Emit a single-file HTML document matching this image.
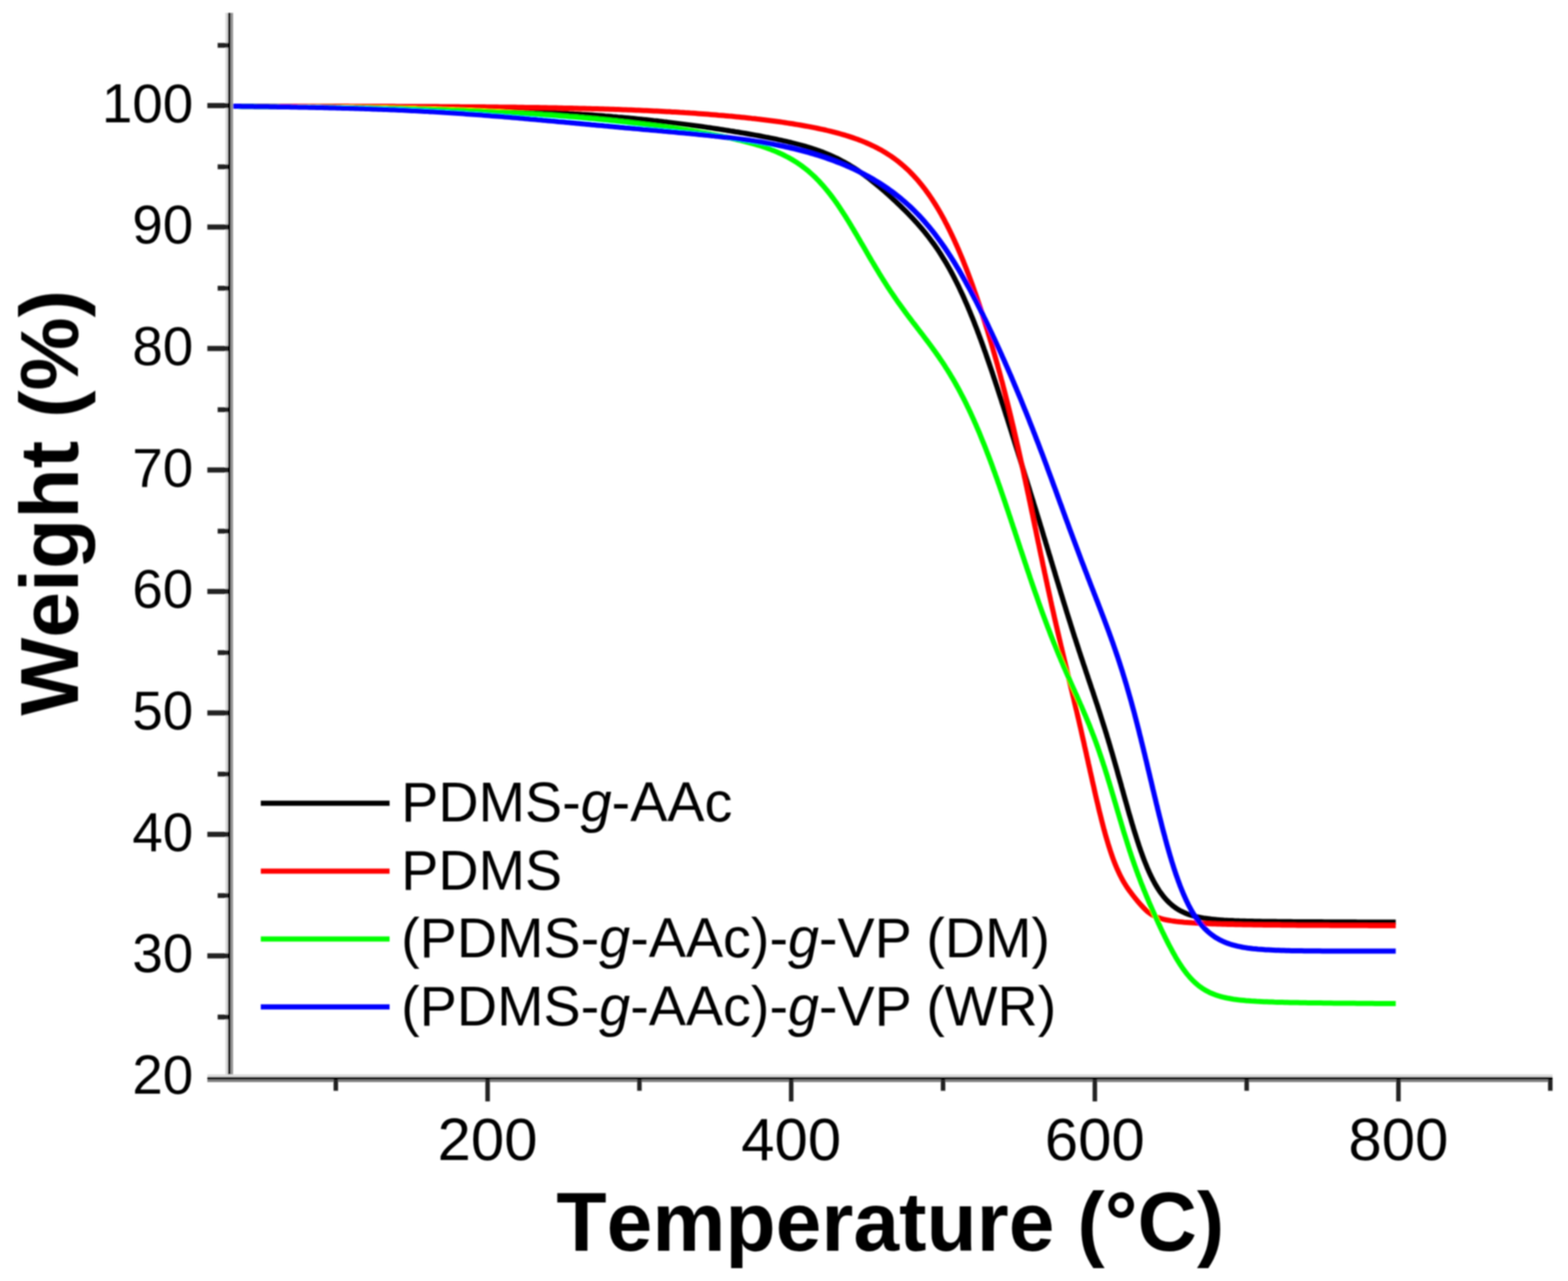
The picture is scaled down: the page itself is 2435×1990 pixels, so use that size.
<!DOCTYPE html>
<html><head><meta charset="utf-8"><title>TGA</title>
<style>html,body{margin:0;padding:0;background:#fff;overflow:hidden;} svg{display:block;}</style>
</head><body>
<svg width="2435" height="1990" viewBox="0 0 2435 1990" font-family='"Liberation Sans", Arial, sans-serif'>
<defs><filter id="soft" x="0" y="0" width="100%" height="100%" filterUnits="userSpaceOnUse"><feGaussianBlur stdDeviation="1.2"/></filter></defs>
<rect x="0" y="0" width="2435" height="1990" fill="#fff"/>
<g filter="url(#soft)">
<path d="M356.0,165.1L360.0,165.1L364.0,165.1L368.0,165.1L372.0,165.2L376.0,165.2L380.0,165.2L384.0,165.2L388.0,165.2L392.0,165.2L396.0,165.2L400.0,165.3L404.0,165.3L408.0,165.3L412.0,165.3L416.0,165.3L420.0,165.4L424.0,165.4L428.0,165.4L432.0,165.4L436.0,165.4L440.0,165.5L444.0,165.5L448.0,165.5L452.0,165.5L456.0,165.5L460.0,165.6L464.0,165.6L468.0,165.6L472.0,165.6L476.0,165.7L480.0,165.7L484.0,165.7L488.0,165.7L492.0,165.8L496.0,165.8L500.0,165.8L504.0,165.9L508.0,165.9L512.0,165.9L516.0,166.0L520.0,166.0L524.0,166.0L528.0,166.1L532.0,166.1L536.0,166.1L540.0,166.2L544.0,166.2L548.0,166.2L552.0,166.3L556.0,166.3L560.0,166.4L564.0,166.4L568.0,166.4L572.0,166.5L576.0,166.5L580.0,166.6L584.0,166.6L588.0,166.7L592.0,166.7L596.0,166.8L600.0,166.8L604.0,166.9L608.0,167.0L612.0,167.0L616.0,167.1L620.0,167.1L624.0,167.2L628.0,167.2L632.0,167.3L636.0,167.4L640.0,167.4L644.0,167.5L648.0,167.6L652.0,167.7L656.0,167.7L660.0,167.8L664.0,167.9L668.0,168.0L672.0,168.0L676.0,168.1L680.0,168.2L684.0,168.3L688.0,168.4L692.0,168.5L696.0,168.6L700.0,168.7L704.0,168.8L708.0,168.9L712.0,169.0L716.0,169.1L720.0,169.2L724.0,169.3L728.0,169.4L732.0,169.5L736.0,169.6L740.0,169.7L744.0,169.8L748.0,170.0L752.0,170.1L756.0,170.2L760.0,170.4L763.9,170.5L767.9,170.6L771.9,170.8L775.9,170.9L779.9,171.1L783.9,171.2L787.9,171.4L791.9,171.5L795.9,171.7L799.9,171.8L803.9,172.0L807.9,172.2L811.9,172.3L815.9,172.5L819.9,172.7L823.9,172.9L827.9,173.1L831.9,173.3L835.9,173.5L839.9,173.7L843.9,173.9L847.9,174.1L851.9,174.3L855.9,174.5L859.9,174.7L863.8,175.0L867.8,175.2L871.8,175.4L875.8,175.7L879.8,175.9L883.8,176.2L887.8,176.4L891.8,176.7L895.8,176.9L899.8,177.2L903.8,177.5L907.8,177.7L911.7,178.0L915.7,178.3L919.7,178.6L923.7,178.9L927.7,179.2L931.7,179.5L935.7,179.8L939.7,180.2L943.7,180.5L947.6,180.8L951.6,181.2L955.6,181.5L959.6,181.9L963.6,182.2L967.6,182.6L971.5,182.9L975.5,183.3L979.5,183.7L983.5,184.1L987.5,184.5L991.5,184.9L995.4,185.3L999.4,185.7L1003.4,186.1L1007.4,186.5L1011.3,186.9L1015.3,187.4L1019.3,187.8L1023.3,188.3L1027.2,188.7L1031.2,189.2L1035.2,189.6L1039.2,190.1L1043.1,190.6L1047.1,191.1L1051.1,191.6L1055.0,192.1L1059.0,192.6L1063.0,193.1L1066.9,193.6L1070.9,194.1L1074.9,194.7L1078.8,195.2L1082.8,195.7L1086.8,196.3L1090.7,196.8L1094.7,197.4L1098.6,198.0L1102.6,198.5L1106.6,199.1L1110.5,199.7L1114.5,200.3L1118.4,200.9L1122.4,201.5L1126.3,202.1L1130.3,202.7L1134.2,203.4L1138.2,204.0L1142.1,204.7L1146.1,205.3L1150.0,206.0L1154.0,206.6L1157.9,207.3L1161.9,208.0L1165.8,208.7L1169.7,209.4L1173.7,210.1L1177.6,210.8L1181.5,211.5L1185.5,212.3L1189.4,213.1L1193.3,213.8L1197.2,214.6L1201.2,215.4L1205.1,216.2L1209.0,217.1L1212.9,217.9L1216.8,218.8L1220.7,219.7L1224.6,220.6L1228.5,221.5L1232.4,222.5L1236.2,223.5L1240.1,224.5L1244.0,225.5L1247.8,226.6L1251.7,227.7L1255.5,228.9L1259.3,230.0L1263.1,231.3L1266.9,232.5L1270.7,233.9L1274.5,235.2L1278.2,236.6L1281.9,238.1L1285.6,239.6L1289.3,241.2L1293.0,242.8L1296.6,244.5L1300.2,246.2L1303.8,248.0L1307.3,249.9L1310.8,251.8L1314.3,253.7L1317.8,255.7L1321.2,257.8L1324.6,259.9L1328.0,262.0L1331.3,264.2L1334.6,266.5L1337.9,268.8L1341.2,271.1L1344.4,273.5L1347.6,275.9L1350.8,278.3L1353.9,280.8L1357.0,283.3L1360.1,285.8L1363.2,288.4L1366.3,290.9L1369.3,293.5L1372.4,296.1L1375.4,298.8L1378.4,301.4L1381.3,304.1L1384.3,306.8L1387.2,309.5L1390.2,312.2L1393.1,315.0L1396.0,317.7L1398.9,320.5L1401.7,323.3L1404.6,326.1L1407.4,328.9L1410.2,331.8L1413.0,334.7L1415.7,337.6L1418.5,340.5L1421.2,343.4L1423.9,346.4L1426.5,349.4L1429.1,352.4L1431.7,355.4L1434.3,358.5L1436.8,361.6L1439.3,364.7L1441.8,367.9L1444.2,371.1L1446.6,374.3L1449.0,377.5L1451.3,380.7L1453.6,384.0L1455.9,387.3L1458.1,390.6L1460.3,394.0L1462.4,397.4L1464.5,400.8L1466.6,404.2L1468.7,407.6L1470.7,411.1L1472.7,414.5L1474.7,418.0L1476.6,421.5L1478.5,425.0L1480.4,428.6L1482.2,432.1L1484.0,435.7L1485.8,439.3L1487.6,442.8L1489.3,446.4L1491.0,450.1L1492.7,453.7L1494.4,457.3L1496.1,461.0L1497.7,464.6L1499.3,468.3L1500.9,471.9L1502.5,475.6L1504.0,479.3L1505.6,483.0L1507.1,486.7L1508.6,490.4L1510.1,494.1L1511.6,497.8L1513.1,501.5L1514.5,505.3L1516.0,509.0L1517.4,512.7L1518.8,516.5L1520.2,520.2L1521.6,524.0L1523.0,527.7L1524.4,531.5L1525.7,535.2L1527.1,539.0L1528.4,542.8L1529.8,546.5L1531.1,550.3L1532.4,554.1L1533.7,557.9L1535.0,561.6L1536.3,565.4L1537.6,569.2L1538.9,573.0L1540.2,576.8L1541.5,580.6L1542.7,584.4L1544.0,588.2L1545.3,592.0L1546.5,595.8L1547.8,599.6L1549.0,603.4L1550.3,607.2L1551.5,611.0L1552.7,614.8L1554.0,618.6L1555.2,622.4L1556.4,626.2L1557.7,630.0L1558.9,633.8L1560.1,637.6L1561.3,641.4L1562.5,645.2L1563.8,649.0L1565.0,652.9L1566.2,656.7L1567.4,660.5L1568.6,664.3L1569.8,668.1L1571.0,671.9L1572.2,675.7L1573.4,679.5L1574.6,683.4L1575.8,687.2L1577.0,691.0L1578.2,694.8L1579.4,698.6L1580.6,702.4L1581.8,706.3L1583.0,710.1L1584.2,713.9L1585.4,717.7L1586.6,721.5L1587.8,725.3L1589.0,729.2L1590.2,733.0L1591.3,736.8L1592.5,740.6L1593.7,744.4L1594.9,748.3L1596.1,752.1L1597.3,755.9L1598.5,759.7L1599.6,763.5L1600.8,767.4L1602.0,771.2L1603.2,775.0L1604.4,778.8L1605.5,782.7L1606.7,786.5L1607.9,790.3L1609.1,794.1L1610.2,798.0L1611.4,801.8L1612.6,805.6L1613.8,809.4L1614.9,813.3L1616.1,817.1L1617.3,820.9L1618.4,824.7L1619.6,828.6L1620.7,832.4L1621.9,836.2L1623.1,840.0L1624.2,843.9L1625.4,847.7L1626.5,851.5L1627.7,855.4L1628.8,859.2L1630.0,863.0L1631.2,866.8L1632.3,870.7L1633.5,874.5L1634.6,878.3L1635.8,882.2L1636.9,886.0L1638.1,889.8L1639.2,893.7L1640.4,897.5L1641.5,901.3L1642.7,905.1L1643.9,909.0L1645.0,912.8L1646.2,916.6L1647.3,920.5L1648.5,924.3L1649.7,928.1L1650.8,931.9L1652.0,935.8L1653.2,939.6L1654.4,943.4L1655.5,947.2L1656.7,951.1L1657.9,954.9L1659.1,958.7L1660.3,962.5L1661.5,966.3L1662.7,970.1L1663.9,974.0L1665.1,977.8L1666.3,981.6L1667.5,985.4L1668.7,989.2L1670.0,993.0L1671.2,996.8L1672.4,1000.6L1673.7,1004.4L1674.9,1008.2L1676.1,1012.0L1677.4,1015.8L1678.6,1019.6L1679.9,1023.4L1681.2,1027.2L1682.4,1031.0L1683.7,1034.8L1685.0,1038.6L1686.2,1042.4L1687.5,1046.2L1688.8,1050.0L1690.0,1053.8L1691.3,1057.6L1692.6,1061.4L1693.9,1065.2L1695.1,1069.0L1696.4,1072.7L1697.7,1076.5L1698.9,1080.3L1700.2,1084.1L1701.4,1087.9L1702.7,1091.7L1704.0,1095.5L1705.2,1099.3L1706.4,1103.1L1707.7,1106.9L1708.9,1110.7L1710.1,1114.6L1711.3,1118.4L1712.5,1122.2L1713.7,1126.0L1714.9,1129.8L1716.1,1133.6L1717.3,1137.5L1718.5,1141.3L1719.6,1145.1L1720.8,1148.9L1721.9,1152.8L1723.1,1156.6L1724.2,1160.4L1725.3,1164.3L1726.5,1168.1L1727.6,1171.9L1728.7,1175.8L1729.8,1179.6L1730.9,1183.5L1732.0,1187.3L1733.1,1191.2L1734.2,1195.0L1735.3,1198.9L1736.3,1202.7L1737.4,1206.6L1738.5,1210.4L1739.6,1214.3L1740.7,1218.1L1741.7,1222.0L1742.8,1225.8L1743.9,1229.7L1744.9,1233.5L1746.0,1237.4L1747.1,1241.3L1748.2,1245.1L1749.3,1249.0L1750.4,1252.8L1751.4,1256.7L1752.5,1260.5L1753.6,1264.3L1754.8,1268.2L1755.9,1272.0L1757.0,1275.9L1758.1,1279.7L1759.3,1283.5L1760.4,1287.4L1761.6,1291.2L1762.8,1295.0L1764.0,1298.8L1765.2,1302.6L1766.4,1306.4L1767.7,1310.2L1768.9,1314.0L1770.2,1317.8L1771.5,1321.6L1772.9,1325.4L1774.2,1329.1L1775.6,1332.9L1777.0,1336.6L1778.5,1340.4L1780.0,1344.1L1781.5,1347.8L1783.1,1351.4L1784.7,1355.1L1786.4,1358.7L1788.1,1362.3L1789.9,1365.9L1791.8,1369.5L1793.7,1373.0L1795.7,1376.4L1797.8,1379.8L1799.9,1383.2L1802.2,1386.5L1804.6,1389.7L1807.0,1392.9L1809.6,1395.9L1812.3,1398.9L1815.1,1401.7L1818.1,1404.4L1821.1,1407.0L1824.3,1409.4L1827.6,1411.7L1831.0,1413.8L1834.6,1415.7L1838.2,1417.4L1841.8,1419.0L1845.6,1420.4L1849.4,1421.7L1853.2,1422.8L1857.1,1423.8L1861.0,1424.7L1864.9,1425.5L1868.8,1426.2L1872.8,1426.8L1876.7,1427.3L1880.7,1427.8L1884.7,1428.2L1888.7,1428.6L1892.7,1428.9L1896.6,1429.2L1900.6,1429.5L1904.6,1429.7L1908.6,1429.9L1912.6,1430.1L1916.6,1430.3L1920.6,1430.4L1924.6,1430.6L1928.6,1430.7L1932.6,1430.8L1936.6,1430.9L1940.6,1431.0L1944.6,1431.1L1948.6,1431.2L1952.6,1431.2L1956.6,1431.3L1960.6,1431.4L1964.6,1431.4L1968.6,1431.5L1972.6,1431.5L1976.6,1431.6L1980.6,1431.6L1984.6,1431.7L1988.6,1431.7L1992.6,1431.7L1996.6,1431.8L2000.6,1431.8L2004.6,1431.8L2008.6,1431.9L2012.6,1431.9L2016.6,1431.9L2020.6,1431.9L2024.6,1432.0L2028.6,1432.0L2032.6,1432.0L2036.6,1432.0L2040.6,1432.1L2044.6,1432.1L2048.6,1432.1L2052.6,1432.1L2056.6,1432.2L2060.6,1432.2L2064.6,1432.2L2068.6,1432.2L2072.6,1432.2L2076.6,1432.2L2080.6,1432.3L2084.6,1432.3L2088.6,1432.3L2092.6,1432.3L2096.6,1432.3L2100.6,1432.3L2104.6,1432.3L2108.6,1432.4L2112.6,1432.4L2116.6,1432.4L2120.6,1432.4L2124.6,1432.4L2128.6,1432.4L2132.6,1432.4L2136.6,1432.4L2140.6,1432.5L2144.6,1432.5L2148.6,1432.5L2152.6,1432.5L2156.6,1432.5L2160.6,1432.5L2164.6,1432.5L2167.5,1432.5" fill="none" stroke="#000" stroke-width="8" stroke-linejoin="round"/>
<path d="M356.0,164.9L360.0,164.9L364.0,164.9L368.0,164.9L372.0,164.9L376.0,164.9L380.0,164.9L384.0,164.9L388.0,164.9L392.0,165.0L396.0,165.0L400.0,165.0L404.0,165.0L408.0,165.0L412.0,165.0L416.0,165.0L420.0,165.0L424.0,165.0L428.0,165.0L432.0,165.0L436.0,165.0L440.0,165.0L444.0,165.0L448.0,165.0L452.0,165.0L456.0,165.0L460.0,165.0L464.0,165.0L468.0,165.0L472.0,165.0L476.0,165.0L480.0,165.0L484.0,165.0L488.0,165.1L492.0,165.1L496.0,165.1L500.0,165.1L504.0,165.1L508.0,165.1L512.0,165.1L516.0,165.1L520.0,165.1L524.0,165.1L528.0,165.1L532.0,165.1L536.0,165.1L540.0,165.1L544.0,165.2L548.0,165.2L552.0,165.2L556.0,165.2L560.0,165.2L564.0,165.2L568.0,165.2L572.0,165.2L576.0,165.2L580.0,165.2L584.0,165.3L588.0,165.3L592.0,165.3L596.0,165.3L600.0,165.3L604.0,165.3L608.0,165.3L612.0,165.3L616.0,165.4L620.0,165.4L624.0,165.4L628.0,165.4L632.0,165.4L636.0,165.4L640.0,165.4L644.0,165.5L648.0,165.5L652.0,165.5L656.0,165.5L660.0,165.5L664.0,165.6L668.0,165.6L672.0,165.6L676.0,165.6L680.0,165.6L684.0,165.7L688.0,165.7L692.0,165.7L696.0,165.7L700.0,165.8L704.0,165.8L708.0,165.8L712.0,165.8L716.0,165.9L720.0,165.9L724.0,165.9L728.0,165.9L732.0,166.0L736.0,166.0L740.0,166.0L744.0,166.1L748.0,166.1L752.0,166.1L756.0,166.2L760.0,166.2L764.0,166.3L768.0,166.3L772.0,166.3L776.0,166.4L780.0,166.4L784.0,166.5L788.0,166.5L792.0,166.6L796.0,166.6L800.0,166.6L804.0,166.7L808.0,166.8L812.0,166.8L816.0,166.9L820.0,166.9L824.0,167.0L828.0,167.0L832.0,167.1L836.0,167.1L840.0,167.2L844.0,167.3L848.0,167.3L852.0,167.4L856.0,167.5L860.0,167.6L864.0,167.6L868.0,167.7L872.0,167.8L876.0,167.9L880.0,167.9L884.0,168.0L888.0,168.1L892.0,168.2L896.0,168.3L900.0,168.4L904.0,168.5L908.0,168.6L912.0,168.7L916.0,168.8L920.0,168.9L924.0,169.0L928.0,169.1L932.0,169.2L936.0,169.3L940.0,169.5L944.0,169.6L948.0,169.7L952.0,169.8L956.0,170.0L960.0,170.1L964.0,170.2L967.9,170.4L971.9,170.5L975.9,170.7L979.9,170.8L983.9,171.0L987.9,171.2L991.9,171.3L995.9,171.5L999.9,171.7L1003.9,171.8L1007.9,172.0L1011.9,172.2L1015.9,172.4L1019.9,172.6L1023.9,172.8L1027.9,173.0L1031.9,173.2L1035.9,173.4L1039.9,173.6L1043.9,173.9L1047.9,174.1L1051.9,174.3L1055.8,174.6L1059.8,174.8L1063.8,175.1L1067.8,175.3L1071.8,175.6L1075.8,175.8L1079.8,176.1L1083.8,176.4L1087.8,176.7L1091.8,177.0L1095.8,177.3L1099.7,177.6L1103.7,177.9L1107.7,178.2L1111.7,178.5L1115.7,178.9L1119.7,179.2L1123.7,179.5L1127.6,179.9L1131.6,180.3L1135.6,180.6L1139.6,181.0L1143.6,181.4L1147.6,181.8L1151.5,182.2L1155.5,182.6L1159.5,183.0L1163.5,183.4L1167.4,183.9L1171.4,184.3L1175.4,184.8L1179.4,185.2L1183.3,185.7L1187.3,186.2L1191.3,186.7L1195.2,187.2L1199.2,187.7L1203.2,188.3L1207.1,188.8L1211.1,189.3L1215.1,189.9L1219.0,190.5L1223.0,191.1L1226.9,191.7L1230.9,192.3L1234.8,193.0L1238.8,193.6L1242.7,194.3L1246.7,195.0L1250.6,195.7L1254.5,196.4L1258.5,197.1L1262.4,197.9L1266.3,198.7L1270.2,199.5L1274.1,200.3L1278.1,201.2L1282.0,202.0L1285.9,203.0L1289.7,203.9L1293.6,204.9L1297.5,205.9L1301.4,206.9L1305.2,208.0L1309.1,209.1L1312.9,210.2L1316.7,211.4L1320.5,212.6L1324.3,213.9L1328.1,215.2L1331.9,216.5L1335.6,217.9L1339.3,219.4L1343.0,220.9L1346.7,222.5L1350.4,224.1L1354.0,225.8L1357.6,227.5L1361.2,229.3L1364.7,231.2L1368.2,233.1L1371.7,235.1L1375.1,237.2L1378.5,239.3L1381.9,241.5L1385.2,243.7L1388.4,246.0L1391.6,248.4L1394.8,250.8L1397.9,253.4L1401.0,255.9L1404.0,258.5L1407.0,261.2L1409.9,263.9L1412.8,266.7L1415.6,269.6L1418.4,272.5L1421.1,275.4L1423.8,278.4L1426.4,281.4L1428.9,284.5L1431.5,287.6L1433.9,290.7L1436.4,293.9L1438.7,297.1L1441.1,300.4L1443.4,303.6L1445.6,306.9L1447.9,310.3L1450.0,313.6L1452.2,317.0L1454.3,320.4L1456.3,323.8L1458.4,327.3L1460.4,330.7L1462.3,334.2L1464.3,337.7L1466.2,341.2L1468.0,344.8L1469.9,348.3L1471.7,351.9L1473.5,355.5L1475.3,359.1L1477.0,362.7L1478.7,366.3L1480.4,369.9L1482.1,373.5L1483.7,377.2L1485.4,380.8L1487.0,384.5L1488.6,388.2L1490.1,391.8L1491.7,395.5L1493.2,399.2L1494.8,402.9L1496.3,406.6L1497.7,410.3L1499.2,414.0L1500.7,417.8L1502.1,421.5L1503.5,425.2L1504.9,429.0L1506.3,432.7L1507.7,436.5L1509.1,440.2L1510.5,444.0L1511.8,447.8L1513.1,451.5L1514.5,455.3L1515.8,459.1L1517.1,462.9L1518.4,466.7L1519.7,470.5L1520.9,474.2L1522.2,478.0L1523.4,481.8L1524.7,485.6L1525.9,489.5L1527.1,493.3L1528.3,497.1L1529.5,500.9L1530.7,504.7L1531.9,508.5L1533.1,512.3L1534.3,516.2L1535.4,520.0L1536.6,523.8L1537.7,527.7L1538.9,531.5L1540.0,535.3L1541.1,539.2L1542.2,543.0L1543.3,546.9L1544.4,550.7L1545.5,554.6L1546.6,558.4L1547.7,562.3L1548.8,566.1L1549.8,570.0L1550.9,573.8L1551.9,577.7L1553.0,581.5L1554.0,585.4L1555.0,589.3L1556.1,593.1L1557.1,597.0L1558.1,600.9L1559.1,604.8L1560.1,608.6L1561.1,612.5L1562.1,616.4L1563.0,620.3L1564.0,624.1L1565.0,628.0L1566.0,631.9L1566.9,635.8L1567.9,639.7L1568.8,643.6L1569.8,647.4L1570.7,651.3L1571.6,655.2L1572.5,659.1L1573.5,663.0L1574.4,666.9L1575.3,670.8L1576.2,674.7L1577.1,678.6L1578.0,682.5L1578.9,686.4L1579.8,690.3L1580.7,694.2L1581.6,698.1L1582.4,702.0L1583.3,705.9L1584.2,709.8L1585.0,713.7L1585.9,717.6L1586.8,721.5L1587.6,725.4L1588.5,729.3L1589.3,733.2L1590.2,737.1L1591.0,741.1L1591.9,745.0L1592.7,748.9L1593.5,752.8L1594.4,756.7L1595.2,760.6L1596.0,764.5L1596.9,768.4L1597.7,772.3L1598.5,776.3L1599.4,780.2L1600.2,784.1L1601.0,788.0L1601.8,791.9L1602.6,795.8L1603.5,799.7L1604.3,803.7L1605.1,807.6L1605.9,811.5L1606.7,815.4L1607.5,819.3L1608.4,823.2L1609.2,827.2L1610.0,831.1L1610.8,835.0L1611.6,838.9L1612.4,842.8L1613.3,846.7L1614.1,850.7L1614.9,854.6L1615.7,858.5L1616.5,862.4L1617.4,866.3L1618.2,870.2L1619.0,874.1L1619.8,878.1L1620.7,882.0L1621.5,885.9L1622.3,889.8L1623.2,893.7L1624.0,897.6L1624.8,901.5L1625.7,905.4L1626.5,909.4L1627.4,913.3L1628.2,917.2L1629.1,921.1L1629.9,925.0L1630.8,928.9L1631.6,932.8L1632.5,936.7L1633.3,940.6L1634.2,944.5L1635.1,948.4L1636.0,952.3L1636.8,956.2L1637.7,960.1L1638.6,964.0L1639.5,967.9L1640.4,971.8L1641.3,975.7L1642.2,979.6L1643.1,983.5L1644.0,987.4L1644.9,991.3L1645.8,995.2L1646.7,999.1L1647.6,1003.0L1648.6,1006.9L1649.5,1010.8L1650.4,1014.7L1651.3,1018.6L1652.3,1022.5L1653.2,1026.3L1654.1,1030.2L1655.0,1034.1L1656.0,1038.0L1656.9,1041.9L1657.8,1045.8L1658.8,1049.7L1659.7,1053.6L1660.6,1057.5L1661.6,1061.4L1662.5,1065.2L1663.4,1069.1L1664.4,1073.0L1665.3,1076.9L1666.2,1080.8L1667.2,1084.7L1668.1,1088.6L1669.0,1092.5L1669.9,1096.4L1670.8,1100.3L1671.8,1104.2L1672.7,1108.1L1673.6,1112.0L1674.5,1115.8L1675.4,1119.7L1676.3,1123.6L1677.2,1127.5L1678.1,1131.4L1679.0,1135.3L1679.8,1139.2L1680.7,1143.1L1681.6,1147.0L1682.5,1150.9L1683.4,1154.8L1684.2,1158.8L1685.1,1162.7L1686.0,1166.6L1686.9,1170.5L1687.7,1174.4L1688.6,1178.3L1689.5,1182.2L1690.3,1186.1L1691.2,1190.0L1692.1,1193.9L1692.9,1197.8L1693.8,1201.7L1694.7,1205.6L1695.6,1209.5L1696.4,1213.4L1697.3,1217.3L1698.2,1221.2L1699.1,1225.1L1699.9,1229.0L1700.8,1232.9L1701.7,1236.8L1702.6,1240.7L1703.5,1244.6L1704.5,1248.5L1705.4,1252.4L1706.3,1256.3L1707.2,1260.2L1708.2,1264.1L1709.2,1267.9L1710.1,1271.8L1711.1,1275.7L1712.1,1279.6L1713.1,1283.4L1714.1,1287.3L1715.2,1291.2L1716.2,1295.0L1717.3,1298.9L1718.4,1302.7L1719.6,1306.6L1720.7,1310.4L1721.9,1314.2L1723.1,1318.0L1724.3,1321.8L1725.6,1325.6L1726.9,1329.4L1728.2,1333.2L1729.6,1336.9L1731.1,1340.7L1732.6,1344.4L1734.1,1348.1L1735.7,1351.7L1737.4,1355.4L1739.1,1359.0L1740.9,1362.5L1742.8,1366.1L1744.7,1369.6L1746.8,1373.0L1748.9,1376.4L1751.1,1379.7L1753.4,1383.0L1755.8,1386.2L1758.2,1389.4L1760.7,1392.6L1763.2,1395.7L1765.7,1398.8L1768.3,1401.8L1770.9,1404.8L1773.6,1407.8L1776.3,1410.7L1779.2,1413.5L1782.2,1416.2L1785.4,1418.6L1788.7,1420.8L1792.2,1422.8L1795.8,1424.5L1799.5,1425.9L1803.4,1427.1L1807.2,1428.1L1811.1,1429.0L1815.1,1429.7L1819.0,1430.4L1823.0,1431.0L1826.9,1431.5L1830.9,1431.9L1834.9,1432.3L1838.9,1432.7L1842.9,1433.0L1846.8,1433.3L1850.8,1433.6L1854.8,1433.8L1858.8,1434.1L1862.8,1434.3L1866.8,1434.5L1870.8,1434.7L1874.8,1434.8L1878.8,1435.0L1882.8,1435.2L1886.8,1435.3L1890.8,1435.4L1894.8,1435.6L1898.8,1435.7L1902.8,1435.8L1906.8,1435.9L1910.8,1436.0L1914.8,1436.1L1918.8,1436.2L1922.8,1436.2L1926.8,1436.3L1930.8,1436.4L1934.8,1436.5L1938.8,1436.5L1942.8,1436.6L1946.8,1436.7L1950.8,1436.7L1954.8,1436.8L1958.8,1436.8L1962.8,1436.9L1966.8,1436.9L1970.8,1437.0L1974.8,1437.0L1978.8,1437.1L1982.8,1437.1L1986.8,1437.1L1990.8,1437.2L1994.8,1437.2L1998.8,1437.2L2002.8,1437.3L2006.8,1437.3L2010.8,1437.3L2014.8,1437.4L2018.8,1437.4L2022.8,1437.4L2026.8,1437.4L2030.8,1437.5L2034.8,1437.5L2038.8,1437.5L2042.8,1437.5L2046.8,1437.6L2050.8,1437.6L2054.8,1437.6L2058.8,1437.6L2062.8,1437.6L2066.8,1437.7L2070.8,1437.7L2074.8,1437.7L2078.8,1437.7L2082.8,1437.7L2086.8,1437.7L2090.8,1437.7L2094.8,1437.8L2098.8,1437.8L2102.8,1437.8L2106.8,1437.8L2110.8,1437.8L2114.8,1437.8L2118.8,1437.8L2122.8,1437.8L2126.8,1437.9L2130.8,1437.9L2134.8,1437.9L2138.8,1437.9L2142.8,1437.9L2146.8,1437.9L2150.8,1437.9L2154.8,1437.9L2158.8,1437.9L2162.8,1437.9L2166.8,1438.0L2167.5,1438.0" fill="none" stroke="#ff0000" stroke-width="8" stroke-linejoin="round"/>
<path d="M356.0,165.1L360.0,165.1L364.0,165.1L368.0,165.1L372.0,165.2L376.0,165.2L380.0,165.2L384.0,165.2L388.0,165.3L392.0,165.3L396.0,165.3L400.0,165.4L404.0,165.4L408.0,165.4L412.0,165.5L416.0,165.5L420.0,165.5L424.0,165.6L428.0,165.6L432.0,165.6L436.0,165.7L440.0,165.7L444.0,165.7L448.0,165.8L452.0,165.8L456.0,165.9L460.0,165.9L464.0,165.9L468.0,166.0L472.0,166.0L476.0,166.1L480.0,166.1L484.0,166.2L488.0,166.2L492.0,166.3L496.0,166.3L500.0,166.4L504.0,166.4L508.0,166.5L512.0,166.5L516.0,166.6L520.0,166.7L524.0,166.7L528.0,166.8L532.0,166.8L536.0,166.9L540.0,167.0L544.0,167.0L548.0,167.1L552.0,167.2L556.0,167.2L560.0,167.3L564.0,167.4L568.0,167.4L572.0,167.5L576.0,167.6L580.0,167.7L584.0,167.7L588.0,167.8L592.0,167.9L596.0,168.0L600.0,168.1L604.0,168.2L608.0,168.3L612.0,168.3L616.0,168.4L620.0,168.5L624.0,168.6L628.0,168.7L632.0,168.8L636.0,168.9L640.0,169.0L644.0,169.1L648.0,169.3L652.0,169.4L656.0,169.5L660.0,169.6L664.0,169.7L668.0,169.8L672.0,170.0L676.0,170.1L680.0,170.2L683.9,170.3L687.9,170.5L691.9,170.6L695.9,170.7L699.9,170.9L703.9,171.0L707.9,171.2L711.9,171.3L715.9,171.5L719.9,171.6L723.9,171.8L727.9,172.0L731.9,172.1L735.9,172.3L739.9,172.5L743.9,172.6L747.9,172.8L751.9,173.0L755.9,173.2L759.9,173.4L763.9,173.5L767.9,173.7L771.9,173.9L775.9,174.1L779.9,174.3L783.9,174.6L787.9,174.8L791.8,175.0L795.8,175.2L799.8,175.4L803.8,175.7L807.8,175.9L811.8,176.1L815.8,176.4L819.8,176.6L823.8,176.9L827.8,177.1L831.8,177.4L835.8,177.6L839.8,177.9L843.7,178.2L847.7,178.4L851.7,178.7L855.7,179.0L859.7,179.3L863.7,179.6L867.7,179.9L871.7,180.2L875.7,180.5L879.6,180.8L883.6,181.2L887.6,181.5L891.6,181.8L895.6,182.1L899.6,182.5L903.6,182.8L907.6,183.2L911.5,183.5L915.5,183.9L919.5,184.3L923.5,184.6L927.5,185.0L931.4,185.4L935.4,185.8L939.4,186.2L943.4,186.6L947.4,187.0L951.3,187.4L955.3,187.8L959.3,188.3L963.3,188.7L967.3,189.1L971.2,189.6L975.2,190.0L979.2,190.5L983.1,191.0L987.1,191.4L991.1,191.9L995.1,192.4L999.0,192.9L1003.0,193.4L1007.0,193.9L1010.9,194.4L1014.9,194.9L1018.9,195.4L1022.8,196.0L1026.8,196.5L1030.8,197.0L1034.7,197.6L1038.7,198.1L1042.6,198.7L1046.6,199.3L1050.6,199.9L1054.5,200.5L1058.5,201.1L1062.4,201.7L1066.4,202.3L1070.3,202.9L1074.3,203.5L1078.2,204.2L1082.2,204.8L1086.1,205.5L1090.1,206.1L1094.0,206.8L1097.9,207.5L1101.9,208.2L1105.8,208.9L1109.7,209.7L1113.7,210.4L1117.6,211.2L1121.5,212.0L1125.5,212.7L1129.4,213.6L1133.3,214.4L1137.2,215.2L1141.1,216.1L1145.0,217.0L1148.9,217.9L1152.8,218.8L1156.7,219.8L1160.5,220.8L1164.4,221.8L1168.3,222.9L1172.1,224.0L1175.9,225.1L1179.8,226.3L1183.6,227.5L1187.4,228.8L1191.1,230.1L1194.9,231.4L1198.6,232.9L1202.4,234.3L1206.1,235.9L1209.7,237.5L1213.4,239.1L1217.0,240.9L1220.5,242.7L1224.1,244.5L1227.6,246.5L1231.0,248.5L1234.4,250.6L1237.8,252.7L1241.1,255.0L1244.4,257.3L1247.6,259.7L1250.8,262.1L1253.9,264.6L1256.9,267.2L1259.9,269.9L1262.9,272.6L1265.8,275.3L1268.6,278.2L1271.4,281.0L1274.1,284.0L1276.8,286.9L1279.4,289.9L1282.0,293.0L1284.6,296.1L1287.1,299.2L1289.5,302.3L1291.9,305.5L1294.3,308.7L1296.7,312.0L1299.0,315.2L1301.3,318.5L1303.5,321.8L1305.7,325.2L1307.9,328.5L1310.1,331.9L1312.3,335.2L1314.4,338.6L1316.5,342.0L1318.6,345.4L1320.7,348.8L1322.7,352.3L1324.8,355.7L1326.8,359.1L1328.9,362.6L1330.9,366.0L1332.9,369.5L1334.9,372.9L1336.9,376.4L1339.0,379.9L1341.0,383.3L1343.0,386.8L1345.0,390.2L1347.0,393.7L1349.0,397.2L1351.0,400.6L1353.0,404.1L1355.1,407.5L1357.1,410.9L1359.2,414.4L1361.2,417.8L1363.3,421.2L1365.4,424.7L1367.5,428.1L1369.6,431.5L1371.7,434.9L1373.8,438.2L1376.0,441.6L1378.1,445.0L1380.3,448.3L1382.5,451.7L1384.8,455.0L1387.0,458.3L1389.3,461.6L1391.5,464.9L1393.8,468.2L1396.1,471.4L1398.5,474.7L1400.8,477.9L1403.2,481.2L1405.5,484.4L1407.9,487.6L1410.3,490.8L1412.7,494.0L1415.1,497.2L1417.5,500.4L1420.0,503.5L1422.4,506.7L1424.8,509.9L1427.3,513.1L1429.7,516.2L1432.2,519.4L1434.6,522.6L1437.0,525.8L1439.4,529.0L1441.8,532.2L1444.2,535.4L1446.6,538.6L1448.9,541.8L1451.3,545.1L1453.6,548.3L1455.9,551.6L1458.2,554.9L1460.4,558.2L1462.7,561.5L1464.9,564.8L1467.1,568.2L1469.2,571.6L1471.4,574.9L1473.5,578.3L1475.6,581.7L1477.6,585.2L1479.7,588.6L1481.7,592.1L1483.7,595.5L1485.6,599.0L1487.6,602.5L1489.5,606.0L1491.4,609.6L1493.2,613.1L1495.1,616.7L1496.9,620.2L1498.7,623.8L1500.5,627.4L1502.2,631.0L1504.0,634.6L1505.7,638.2L1507.4,641.8L1509.0,645.4L1510.7,649.1L1512.3,652.7L1513.9,656.4L1515.6,660.1L1517.1,663.7L1518.7,667.4L1520.3,671.1L1521.8,674.8L1523.3,678.5L1524.8,682.2L1526.3,685.9L1527.8,689.6L1529.3,693.3L1530.8,697.1L1532.2,700.8L1533.6,704.5L1535.1,708.3L1536.5,712.0L1537.9,715.7L1539.3,719.5L1540.7,723.2L1542.0,727.0L1543.4,730.8L1544.8,734.5L1546.1,738.3L1547.5,742.0L1548.8,745.8L1550.1,749.6L1551.5,753.4L1552.8,757.1L1554.1,760.9L1555.4,764.7L1556.7,768.5L1558.0,772.3L1559.3,776.1L1560.6,779.8L1561.8,783.6L1563.1,787.4L1564.4,791.2L1565.7,795.0L1566.9,798.8L1568.2,802.6L1569.5,806.4L1570.7,810.2L1572.0,814.0L1573.2,817.8L1574.5,821.6L1575.8,825.4L1577.0,829.2L1578.3,833.0L1579.5,836.8L1580.8,840.6L1582.0,844.4L1583.3,848.2L1584.5,852.0L1585.8,855.8L1587.1,859.6L1588.3,863.3L1589.6,867.1L1590.8,870.9L1592.1,874.7L1593.4,878.5L1594.6,882.3L1595.9,886.1L1597.2,889.9L1598.5,893.7L1599.7,897.5L1601.0,901.3L1602.3,905.1L1603.6,908.8L1604.9,912.6L1606.2,916.4L1607.5,920.2L1608.9,924.0L1610.2,927.7L1611.5,931.5L1612.8,935.3L1614.2,939.1L1615.5,942.8L1616.9,946.6L1618.2,950.3L1619.6,954.1L1621.0,957.9L1622.4,961.6L1623.8,965.4L1625.2,969.1L1626.6,972.8L1628.0,976.6L1629.5,980.3L1630.9,984.0L1632.3,987.8L1633.8,991.5L1635.3,995.2L1636.8,998.9L1638.3,1002.6L1639.8,1006.3L1641.3,1010.1L1642.8,1013.8L1644.3,1017.4L1645.9,1021.1L1647.4,1024.8L1649.0,1028.5L1650.6,1032.2L1652.1,1035.9L1653.7,1039.5L1655.3,1043.2L1656.9,1046.9L1658.5,1050.5L1660.2,1054.2L1661.8,1057.8L1663.4,1061.5L1665.0,1065.1L1666.7,1068.8L1668.3,1072.4L1669.9,1076.1L1671.6,1079.7L1673.2,1083.4L1674.8,1087.1L1676.4,1090.7L1678.0,1094.4L1679.7,1098.0L1681.2,1101.7L1682.8,1105.4L1684.4,1109.1L1686.0,1112.7L1687.5,1116.4L1689.0,1120.1L1690.6,1123.8L1692.1,1127.5L1693.5,1131.3L1695.0,1135.0L1696.4,1138.7L1697.9,1142.4L1699.3,1146.2L1700.7,1149.9L1702.1,1153.7L1703.4,1157.4L1704.8,1161.2L1706.1,1165.0L1707.4,1168.8L1708.7,1172.6L1710.0,1176.3L1711.2,1180.1L1712.5,1183.9L1713.7,1187.7L1715.0,1191.5L1716.2,1195.4L1717.4,1199.2L1718.6,1203.0L1719.8,1206.8L1720.9,1210.6L1722.1,1214.5L1723.3,1218.3L1724.4,1222.1L1725.6,1226.0L1726.7,1229.8L1727.8,1233.6L1729.0,1237.5L1730.1,1241.3L1731.2,1245.1L1732.4,1249.0L1733.5,1252.8L1734.6,1256.6L1735.7,1260.5L1736.9,1264.3L1738.0,1268.2L1739.1,1272.0L1740.3,1275.8L1741.4,1279.7L1742.5,1283.5L1743.7,1287.3L1744.8,1291.2L1746.0,1295.0L1747.2,1298.8L1748.4,1302.6L1749.6,1306.4L1750.8,1310.3L1752.0,1314.1L1753.2,1317.9L1754.4,1321.7L1755.7,1325.5L1756.9,1329.3L1758.2,1333.1L1759.5,1336.9L1760.8,1340.6L1762.1,1344.4L1763.5,1348.2L1764.8,1352.0L1766.2,1355.7L1767.6,1359.5L1769.0,1363.2L1770.4,1366.9L1771.8,1370.7L1773.3,1374.4L1774.8,1378.1L1776.2,1381.8L1777.8,1385.5L1779.3,1389.2L1780.8,1392.9L1782.4,1396.6L1783.9,1400.3L1785.5,1404.0L1787.1,1407.7L1788.7,1411.3L1790.3,1415.0L1791.9,1418.6L1793.6,1422.3L1795.2,1425.9L1796.9,1429.6L1798.5,1433.2L1800.2,1436.8L1801.9,1440.5L1803.6,1444.1L1805.3,1447.7L1807.1,1451.3L1808.8,1454.9L1810.6,1458.5L1812.4,1462.1L1814.2,1465.6L1816.0,1469.2L1817.9,1472.7L1819.8,1476.2L1821.7,1479.8L1823.7,1483.2L1825.6,1486.7L1827.7,1490.2L1829.8,1493.6L1831.9,1497.0L1834.1,1500.3L1836.3,1503.6L1838.7,1506.9L1841.1,1510.1L1843.5,1513.2L1846.1,1516.3L1848.7,1519.3L1851.5,1522.2L1854.3,1525.0L1857.3,1527.7L1860.3,1530.3L1863.5,1532.8L1866.7,1535.1L1870.1,1537.2L1873.6,1539.2L1877.1,1541.1L1880.7,1542.8L1884.4,1544.3L1888.2,1545.7L1892.0,1547.0L1895.8,1548.1L1899.7,1549.1L1903.6,1550.0L1907.5,1550.8L1911.4,1551.5L1915.4,1552.2L1919.3,1552.7L1923.3,1553.3L1927.3,1553.7L1931.2,1554.1L1935.2,1554.5L1939.2,1554.8L1943.2,1555.1L1947.2,1555.3L1951.2,1555.6L1955.2,1555.8L1959.2,1556.0L1963.2,1556.2L1967.2,1556.3L1971.2,1556.5L1975.2,1556.6L1979.2,1556.8L1983.2,1556.9L1987.2,1557.0L1991.2,1557.1L1995.2,1557.2L1999.2,1557.3L2003.2,1557.4L2007.2,1557.5L2011.2,1557.5L2015.2,1557.6L2019.2,1557.7L2023.2,1557.7L2027.2,1557.8L2031.2,1557.9L2035.2,1557.9L2039.2,1558.0L2043.2,1558.0L2047.2,1558.1L2051.2,1558.1L2055.2,1558.2L2059.2,1558.2L2063.2,1558.3L2067.2,1558.3L2071.2,1558.4L2075.2,1558.4L2079.2,1558.4L2083.2,1558.5L2087.2,1558.5L2091.2,1558.5L2095.2,1558.6L2099.2,1558.6L2103.2,1558.6L2107.2,1558.7L2111.2,1558.7L2115.2,1558.7L2119.2,1558.8L2123.2,1558.8L2127.2,1558.8L2131.2,1558.8L2135.2,1558.9L2139.2,1558.9L2143.2,1558.9L2147.2,1558.9L2151.2,1559.0L2155.2,1559.0L2159.2,1559.0L2163.2,1559.0L2167.2,1559.1L2167.5,1559.1" fill="none" stroke="#00ff00" stroke-width="8" stroke-linejoin="round"/>
<path d="M356.0,165.0L360.0,165.0L364.0,165.1L368.0,165.1L372.0,165.1L376.0,165.2L380.0,165.2L384.0,165.3L388.0,165.3L392.0,165.3L396.0,165.4L400.0,165.4L404.0,165.5L408.0,165.5L412.0,165.6L416.0,165.6L420.0,165.7L424.0,165.7L428.0,165.8L432.0,165.9L436.0,165.9L440.0,166.0L444.0,166.0L448.0,166.1L452.0,166.2L456.0,166.2L460.0,166.3L464.0,166.4L468.0,166.4L472.0,166.5L476.0,166.6L480.0,166.7L484.0,166.7L488.0,166.8L492.0,166.9L496.0,167.0L500.0,167.1L504.0,167.2L508.0,167.3L512.0,167.4L516.0,167.4L520.0,167.5L524.0,167.7L528.0,167.8L532.0,167.9L536.0,168.0L540.0,168.1L544.0,168.2L548.0,168.3L552.0,168.4L556.0,168.6L560.0,168.7L564.0,168.8L568.0,168.9L572.0,169.1L576.0,169.2L580.0,169.4L583.9,169.5L587.9,169.7L591.9,169.8L595.9,170.0L599.9,170.1L603.9,170.3L607.9,170.4L611.9,170.6L615.9,170.8L619.9,171.0L623.9,171.1L627.9,171.3L631.9,171.5L635.9,171.7L639.9,171.9L643.9,172.1L647.9,172.3L651.9,172.5L655.9,172.7L659.9,172.9L663.9,173.1L667.9,173.4L671.9,173.6L675.8,173.8L679.8,174.1L683.8,174.3L687.8,174.5L691.8,174.8L695.8,175.0L699.8,175.3L703.8,175.5L707.8,175.8L711.8,176.1L715.8,176.3L719.8,176.6L723.7,176.9L727.7,177.2L731.7,177.4L735.7,177.7L739.7,178.0L743.7,178.3L747.7,178.6L751.7,178.9L755.7,179.2L759.6,179.5L763.6,179.9L767.6,180.2L771.6,180.5L775.6,180.8L779.6,181.1L783.6,181.5L787.6,181.8L791.5,182.1L795.5,182.5L799.5,182.8L803.5,183.1L807.5,183.5L811.5,183.8L815.5,184.2L819.4,184.5L823.4,184.9L827.4,185.2L831.4,185.6L835.4,186.0L839.4,186.3L843.3,186.7L847.3,187.0L851.3,187.4L855.3,187.8L859.3,188.1L863.3,188.5L867.2,188.9L871.2,189.2L875.2,189.6L879.2,190.0L883.2,190.3L887.2,190.7L891.1,191.1L895.1,191.4L899.1,191.8L903.1,192.2L907.1,192.6L911.1,192.9L915.0,193.3L919.0,193.7L923.0,194.0L927.0,194.4L931.0,194.8L935.0,195.1L938.9,195.5L942.9,195.8L946.9,196.2L950.9,196.6L954.9,196.9L958.9,197.3L962.8,197.7L966.8,198.0L970.8,198.4L974.8,198.7L978.8,199.1L982.8,199.4L986.7,199.8L990.7,200.1L994.7,200.5L998.7,200.9L1002.7,201.2L1006.7,201.6L1010.7,201.9L1014.6,202.3L1018.6,202.6L1022.6,203.0L1026.6,203.3L1030.6,203.7L1034.6,204.0L1038.5,204.4L1042.5,204.8L1046.5,205.1L1050.5,205.5L1054.5,205.9L1058.5,206.2L1062.4,206.6L1066.4,207.0L1070.4,207.3L1074.4,207.7L1078.4,208.1L1082.4,208.5L1086.3,208.9L1090.3,209.3L1094.3,209.7L1098.3,210.1L1102.2,210.5L1106.2,210.9L1110.2,211.4L1114.2,211.8L1118.2,212.2L1122.1,212.7L1126.1,213.2L1130.1,213.6L1134.0,214.1L1138.0,214.6L1142.0,215.1L1146.0,215.6L1149.9,216.1L1153.9,216.7L1157.8,217.2L1161.8,217.8L1165.8,218.4L1169.7,219.0L1173.7,219.6L1177.6,220.2L1181.6,220.8L1185.5,221.5L1189.5,222.2L1193.4,222.9L1197.3,223.6L1201.3,224.3L1205.2,225.1L1209.1,225.8L1213.0,226.6L1217.0,227.4L1220.9,228.3L1224.8,229.1L1228.7,230.0L1232.6,230.9L1236.5,231.9L1240.3,232.8L1244.2,233.8L1248.1,234.9L1251.9,235.9L1255.8,237.0L1259.6,238.1L1263.5,239.2L1267.3,240.4L1271.1,241.5L1274.9,242.8L1278.7,244.0L1282.5,245.3L1286.3,246.6L1290.1,247.9L1293.8,249.3L1297.6,250.7L1301.3,252.2L1305.0,253.6L1308.7,255.1L1312.4,256.7L1316.1,258.3L1319.8,259.9L1323.4,261.5L1327.0,263.2L1330.6,264.9L1334.2,266.7L1337.8,268.5L1341.4,270.3L1344.9,272.2L1348.4,274.1L1351.9,276.0L1355.4,278.0L1358.8,280.1L1362.2,282.1L1365.6,284.2L1369.0,286.4L1372.4,288.6L1375.7,290.8L1379.0,293.1L1382.2,295.4L1385.5,297.8L1388.7,300.2L1391.8,302.6L1395.0,305.1L1398.1,307.6L1401.1,310.2L1404.2,312.8L1407.2,315.4L1410.2,318.1L1413.1,320.8L1416.0,323.5L1418.9,326.3L1421.7,329.2L1424.5,332.0L1427.3,334.9L1430.0,337.8L1432.7,340.8L1435.4,343.8L1438.0,346.8L1440.6,349.8L1443.2,352.9L1445.7,356.0L1448.2,359.1L1450.7,362.2L1453.1,365.4L1455.5,368.6L1457.9,371.8L1460.3,375.1L1462.6,378.3L1464.9,381.6L1467.2,384.9L1469.4,388.2L1471.6,391.5L1473.8,394.9L1476.0,398.2L1478.1,401.6L1480.3,405.0L1482.4,408.4L1484.5,411.8L1486.5,415.2L1488.6,418.6L1490.6,422.1L1492.6,425.5L1494.6,429.0L1496.6,432.5L1498.6,436.0L1500.5,439.5L1502.4,443.0L1504.4,446.5L1506.3,450.0L1508.1,453.5L1510.0,457.1L1511.9,460.6L1513.7,464.2L1515.6,467.7L1517.4,471.3L1519.2,474.8L1521.0,478.4L1522.8,482.0L1524.6,485.6L1526.4,489.1L1528.1,492.7L1529.9,496.3L1531.6,499.9L1533.4,503.5L1535.1,507.1L1536.8,510.8L1538.5,514.4L1540.2,518.0L1541.9,521.6L1543.6,525.2L1545.3,528.9L1546.9,532.5L1548.6,536.1L1550.3,539.8L1551.9,543.4L1553.6,547.1L1555.2,550.7L1556.8,554.4L1558.5,558.0L1560.1,561.7L1561.7,565.3L1563.3,569.0L1564.9,572.7L1566.5,576.3L1568.1,580.0L1569.7,583.7L1571.3,587.4L1572.8,591.0L1574.4,594.7L1575.9,598.4L1577.5,602.1L1579.0,605.8L1580.6,609.5L1582.1,613.2L1583.7,616.9L1585.2,620.6L1586.7,624.3L1588.2,628.0L1589.7,631.7L1591.2,635.4L1592.7,639.1L1594.2,642.8L1595.7,646.5L1597.2,650.2L1598.6,653.9L1600.1,657.7L1601.6,661.4L1603.0,665.1L1604.5,668.8L1605.9,672.6L1607.4,676.3L1608.8,680.0L1610.2,683.8L1611.7,687.5L1613.1,691.2L1614.5,695.0L1615.9,698.7L1617.4,702.5L1618.8,706.2L1620.2,709.9L1621.6,713.7L1623.0,717.4L1624.4,721.2L1625.8,724.9L1627.1,728.7L1628.5,732.4L1629.9,736.2L1631.3,739.9L1632.7,743.7L1634.1,747.5L1635.4,751.2L1636.8,755.0L1638.2,758.7L1639.6,762.5L1640.9,766.2L1642.3,770.0L1643.7,773.8L1645.0,777.5L1646.4,781.3L1647.8,785.0L1649.2,788.8L1650.5,792.5L1651.9,796.3L1653.3,800.1L1654.6,803.8L1656.0,807.6L1657.4,811.3L1658.8,815.1L1660.1,818.8L1661.5,822.6L1662.9,826.3L1664.3,830.1L1665.7,833.8L1667.1,837.6L1668.5,841.3L1669.9,845.1L1671.3,848.8L1672.7,852.6L1674.1,856.3L1675.5,860.1L1676.9,863.8L1678.3,867.6L1679.7,871.3L1681.1,875.0L1682.6,878.8L1684.0,882.5L1685.4,886.3L1686.9,890.0L1688.3,893.7L1689.7,897.5L1691.2,901.2L1692.6,904.9L1694.0,908.6L1695.5,912.4L1696.9,916.1L1698.4,919.8L1699.8,923.6L1701.3,927.3L1702.7,931.0L1704.2,934.8L1705.6,938.5L1707.0,942.2L1708.5,946.0L1709.9,949.7L1711.3,953.4L1712.8,957.2L1714.2,960.9L1715.6,964.6L1717.0,968.4L1718.4,972.1L1719.8,975.9L1721.2,979.6L1722.6,983.4L1723.9,987.2L1725.3,990.9L1726.6,994.7L1728.0,998.4L1729.3,1002.2L1730.6,1006.0L1731.9,1009.8L1733.2,1013.6L1734.5,1017.4L1735.8,1021.1L1737.0,1024.9L1738.3,1028.7L1739.5,1032.5L1740.7,1036.4L1742.0,1040.2L1743.2,1044.0L1744.3,1047.8L1745.5,1051.6L1746.7,1055.5L1747.8,1059.3L1749.0,1063.1L1750.1,1067.0L1751.2,1070.8L1752.3,1074.6L1753.4,1078.5L1754.5,1082.3L1755.6,1086.2L1756.7,1090.0L1757.7,1093.9L1758.8,1097.8L1759.8,1101.6L1760.9,1105.5L1761.9,1109.3L1762.9,1113.2L1763.9,1117.1L1764.9,1121.0L1765.9,1124.8L1766.9,1128.7L1767.9,1132.6L1768.9,1136.5L1769.8,1140.3L1770.8,1144.2L1771.8,1148.1L1772.7,1152.0L1773.7,1155.9L1774.6,1159.8L1775.6,1163.6L1776.5,1167.5L1777.5,1171.4L1778.4,1175.3L1779.3,1179.2L1780.3,1183.1L1781.2,1187.0L1782.1,1190.9L1783.0,1194.8L1784.0,1198.7L1784.9,1202.5L1785.8,1206.4L1786.7,1210.3L1787.7,1214.2L1788.6,1218.1L1789.5,1222.0L1790.4,1225.9L1791.4,1229.8L1792.3,1233.7L1793.2,1237.6L1794.2,1241.5L1795.1,1245.3L1796.0,1249.2L1797.0,1253.1L1797.9,1257.0L1798.9,1260.9L1799.8,1264.8L1800.8,1268.7L1801.8,1272.5L1802.8,1276.4L1803.7,1280.3L1804.7,1284.2L1805.7,1288.0L1806.7,1291.9L1807.8,1295.8L1808.8,1299.6L1809.8,1303.5L1810.9,1307.4L1811.9,1311.2L1813.0,1315.1L1814.1,1318.9L1815.2,1322.8L1816.3,1326.6L1817.4,1330.5L1818.6,1334.3L1819.7,1338.1L1820.9,1341.9L1822.1,1345.8L1823.3,1349.6L1824.6,1353.4L1825.8,1357.2L1827.1,1360.9L1828.5,1364.7L1829.8,1368.5L1831.2,1372.2L1832.6,1376.0L1834.1,1379.7L1835.6,1383.4L1837.1,1387.1L1838.7,1390.8L1840.3,1394.4L1841.9,1398.1L1843.7,1401.7L1845.4,1405.3L1847.3,1408.8L1849.2,1412.4L1851.1,1415.8L1853.2,1419.3L1855.3,1422.7L1857.5,1426.0L1859.8,1429.3L1862.2,1432.5L1864.7,1435.6L1867.3,1438.6L1870.0,1441.6L1872.8,1444.4L1875.7,1447.2L1878.8,1449.8L1881.9,1452.2L1885.2,1454.6L1888.5,1456.8L1892.0,1458.8L1895.5,1460.7L1899.1,1462.4L1902.8,1464.0L1906.5,1465.4L1910.3,1466.7L1914.1,1467.9L1918.0,1468.9L1921.9,1469.9L1925.8,1470.7L1929.7,1471.5L1933.7,1472.1L1937.6,1472.7L1941.6,1473.2L1945.6,1473.7L1949.5,1474.1L1953.5,1474.5L1957.5,1474.8L1961.5,1475.1L1965.5,1475.4L1969.5,1475.6L1973.5,1475.8L1977.5,1476.0L1981.5,1476.2L1985.5,1476.3L1989.5,1476.5L1993.5,1476.6L1997.5,1476.7L2001.5,1476.8L2005.5,1476.9L2009.4,1476.9L2013.4,1477.0L2017.4,1477.1L2021.4,1477.1L2025.4,1477.2L2029.4,1477.2L2033.4,1477.2L2037.4,1477.3L2041.4,1477.3L2045.4,1477.3L2049.4,1477.3L2053.4,1477.4L2057.4,1477.4L2061.4,1477.4L2065.4,1477.4L2069.4,1477.4L2073.4,1477.5L2077.4,1477.5L2081.4,1477.5L2085.4,1477.5L2089.4,1477.5L2093.4,1477.5L2097.4,1477.5L2101.4,1477.5L2105.4,1477.5L2109.4,1477.5L2113.4,1477.5L2117.4,1477.5L2121.4,1477.5L2125.4,1477.6L2129.4,1477.6L2133.4,1477.6L2137.4,1477.6L2141.4,1477.6L2145.4,1477.6L2149.4,1477.6L2153.4,1477.6L2157.4,1477.6L2161.4,1477.6L2165.4,1477.6L2167.5,1477.6" fill="none" stroke="#0000ff" stroke-width="8" stroke-linejoin="round"/>
<rect x="350" y="20" width="4" height="1653" fill="#d9d9d9"/>
<rect x="358" y="20" width="4" height="1653" fill="#949494"/>
<rect x="354" y="20" width="4" height="1657" fill="#000"/>
<rect x="322" y="1669" width="2089" height="4" fill="#dcdcdc"/>
<rect x="322" y="1677" width="2089" height="4" fill="#808080"/>
<rect x="322" y="1673" width="2089" height="4" fill="#000"/>
<rect x="322" y="160.0" width="32" height="8" fill="#222" />
<text x="300" y="189.5" font-size="85" text-anchor="end">100</text>
<rect x="322" y="348.7" width="32" height="8" fill="#222" />
<text x="300" y="378.2" font-size="85" text-anchor="end">90</text>
<rect x="322" y="537.4" width="32" height="8" fill="#222" />
<text x="300" y="566.9" font-size="85" text-anchor="end">80</text>
<rect x="322" y="726.1" width="32" height="8" fill="#222" />
<text x="300" y="755.6" font-size="85" text-anchor="end">70</text>
<rect x="322" y="914.8" width="32" height="8" fill="#222" />
<text x="300" y="944.3" font-size="85" text-anchor="end">60</text>
<rect x="322" y="1103.5" width="32" height="8" fill="#222" />
<text x="300" y="1133.0" font-size="85" text-anchor="end">50</text>
<rect x="322" y="1292.2" width="32" height="8" fill="#222" />
<text x="300" y="1321.7" font-size="85" text-anchor="end">40</text>
<rect x="322" y="1480.9" width="32" height="8" fill="#222" />
<text x="300" y="1510.4" font-size="85" text-anchor="end">30</text>
<text x="300" y="1699.1" font-size="85" text-anchor="end">20</text>
<rect x="338" y="66.7" width="16" height="7.5" fill="#222" />
<rect x="338" y="255.4" width="16" height="7.5" fill="#222" />
<rect x="338" y="444.0" width="16" height="7.5" fill="#222" />
<rect x="338" y="632.7" width="16" height="7.5" fill="#222" />
<rect x="338" y="821.4" width="16" height="7.5" fill="#222" />
<rect x="338" y="1010.1" width="16" height="7.5" fill="#222" />
<rect x="338" y="1198.8" width="16" height="7.5" fill="#222" />
<rect x="338" y="1387.5" width="16" height="7.5" fill="#222" />
<rect x="338" y="1576.2" width="16" height="7.5" fill="#222" />
<rect x="753.7" y="1677" width="7" height="34" fill="#222"/>
<text x="757.2" y="1802" font-size="93" text-anchor="middle">200</text>
<rect x="1225.2" y="1677" width="7" height="34" fill="#222"/>
<text x="1228.7" y="1802" font-size="93" text-anchor="middle">400</text>
<rect x="1696.7" y="1677" width="7" height="34" fill="#222"/>
<text x="1700.2" y="1802" font-size="93" text-anchor="middle">600</text>
<rect x="2168.2" y="1677" width="7" height="34" fill="#222"/>
<text x="2171.7" y="1802" font-size="93" text-anchor="middle">800</text>
<rect x="518.0" y="1677" width="7" height="17.5" fill="#222"/>
<rect x="989.5" y="1677" width="7" height="17.5" fill="#222"/>
<rect x="1461.0" y="1677" width="7" height="17.5" fill="#222"/>
<rect x="1932.5" y="1677" width="7" height="17.5" fill="#222"/>
<rect x="2404.0" y="1677" width="7" height="17.5" fill="#222"/>
<text transform="translate(864,1943) scale(1,1.02)" x="0" y="0" font-size="127.7" font-weight="bold" style="font-kerning:none">Temperature (°C)</text>
<text transform="translate(121,1111.5) rotate(-90)" x="0" y="0" font-size="128" font-weight="bold" style="font-kerning:none">Weight (%)</text>
<rect x="405" y="1243.8" width="200" height="8" fill="#000"/>
<text x="623" y="1275.5" font-size="86.5">PDMS-<tspan font-style="italic">g</tspan>-AAc</text>
<rect x="405" y="1349.3" width="200" height="8" fill="#ff0000"/>
<text x="623" y="1381.5" font-size="86.5">PDMS</text>
<rect x="405" y="1454.7" width="200" height="8" fill="#00ff00"/>
<text x="623" y="1487" font-size="86.5">(PDMS-<tspan font-style="italic">g</tspan>-AAc)-<tspan font-style="italic">g</tspan>-VP (DM)</text>
<rect x="405" y="1560.2" width="200" height="8" fill="#0000ff"/>
<text x="623" y="1592.5" font-size="86.5">(PDMS-<tspan font-style="italic">g</tspan>-AAc)-<tspan font-style="italic">g</tspan>-VP (WR)</text>
</g>
</svg>
</body></html>
